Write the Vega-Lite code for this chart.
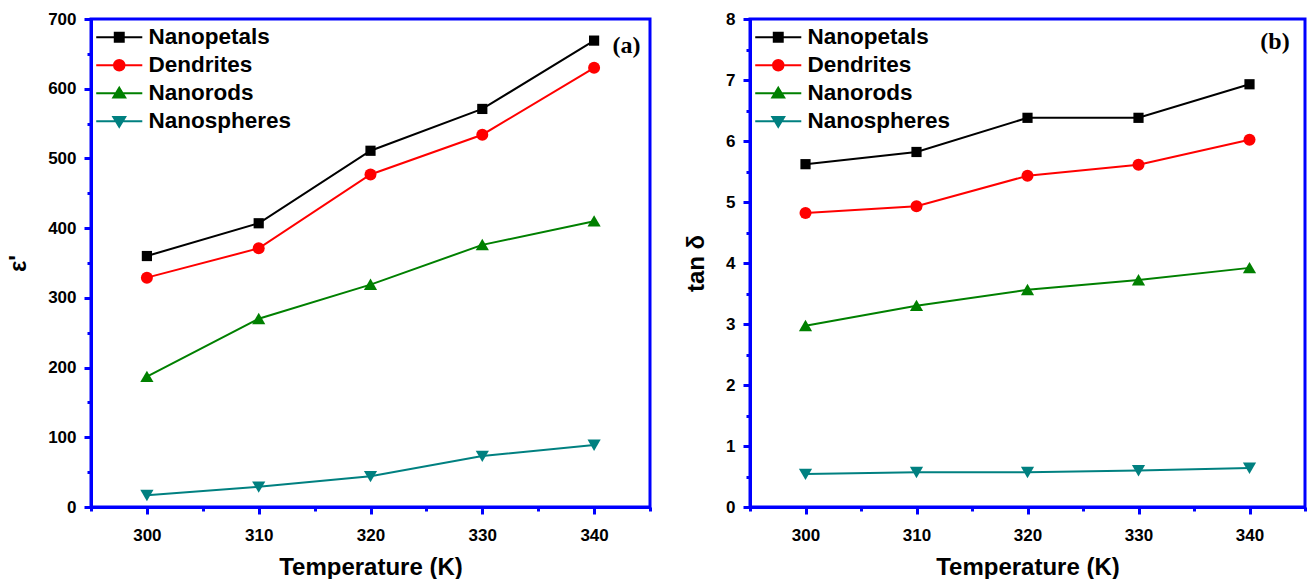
{
  "$schema": "https://vega.github.io/schema/vega-lite/v6.json",
  "padding": {"left": 5, "right": 0, "top": 8, "bottom": 0},
  "background": "white",
  "datasets": {
    "d": [
      {"T": 300, "series": "Nanopetals", "eps": 360, "tan": 5.62},
      {"T": 310, "series": "Nanopetals", "eps": 407, "tan": 5.82},
      {"T": 320, "series": "Nanopetals", "eps": 511, "tan": 6.38},
      {"T": 330, "series": "Nanopetals", "eps": 571, "tan": 6.38},
      {"T": 340, "series": "Nanopetals", "eps": 669, "tan": 6.93},
      {"T": 300, "series": "Dendrites", "eps": 329, "tan": 4.82},
      {"T": 310, "series": "Dendrites", "eps": 371, "tan": 4.93},
      {"T": 320, "series": "Dendrites", "eps": 477, "tan": 5.43},
      {"T": 330, "series": "Dendrites", "eps": 534, "tan": 5.61},
      {"T": 340, "series": "Dendrites", "eps": 630, "tan": 6.02},
      {"T": 300, "series": "Nanorods", "eps": 187, "tan": 2.97},
      {"T": 310, "series": "Nanorods", "eps": 270, "tan": 3.30},
      {"T": 320, "series": "Nanorods", "eps": 319, "tan": 3.56},
      {"T": 330, "series": "Nanorods", "eps": 376, "tan": 3.72},
      {"T": 340, "series": "Nanorods", "eps": 410, "tan": 3.92},
      {"T": 300, "series": "Nanospheres", "eps": 17, "tan": 0.54},
      {"T": 310, "series": "Nanospheres", "eps": 29, "tan": 0.57},
      {"T": 320, "series": "Nanospheres", "eps": 44, "tan": 0.57},
      {"T": 330, "series": "Nanospheres", "eps": 73, "tan": 0.60},
      {"T": 340, "series": "Nanospheres", "eps": 89, "tan": 0.64}
    ]
  },
  "config": {
    "view": {"stroke": "#0000FF", "strokeWidth": 3},
    "axis": {
      "grid": false,
      "domainColor": "#0000FF", "domainWidth": 3,
      "tickColor": "#0000FF", "tickWidth": 3, "tickSize": 7,
      "labelFont": "Liberation Sans", "labelFontWeight": "bold", "labelFontSize": 17, "labelColor": "#000000",
      "titleFont": "Liberation Sans", "titleFontWeight": "bold", "titleFontSize": 24, "titleColor": "#000000"
    },
    "legend": {
      "title": null, "orient": "top-left", "offset": 7, "padding": 0,
      "symbolSize": 196, "symbolStrokeWidth": 2, "symbolOpacity": 1, "labelOffset": 28, "rowPadding": 5,
      "labelFont": "Liberation Sans", "labelFontWeight": "bold", "labelFontSize": 22.5, "labelColor": "#000000"
    }
  },
  "resolve": {"scale": {"color": "independent", "shape": "independent", "stroke": "independent"}, "legend": {"color": "independent", "shape": "independent", "stroke": "independent"}},
  "spacing": 30,
  "hconcat": [
    {
      "width": 559, "height": 488,
      "data": {"name": "d"},
      "resolve": {"axis": {"x": "independent", "y": "independent"}},
      "layer": [
        {
          "mark": {"type": "point", "filled": true, "opacity": 0},
          "encoding": {
            "x": {"field": "T", "type": "quantitative", "axis": null},
            "y": {"field": "eps", "type": "quantitative", "axis": null},
            "color": {"field": "series", "type": "nominal",
                      "scale": {"domain": ["Nanopetals", "Dendrites", "Nanorods", "Nanospheres"], "range": ["#000000", "#FF0000", "#008000", "#008080"]}},
            "stroke": {"field": "series", "type": "nominal",
                      "scale": {"domain": ["Nanopetals", "Dendrites", "Nanorods", "Nanospheres"], "range": ["#000000", "#FF0000", "#008000", "#008080"]}},
            "shape": {"field": "series", "type": "nominal",
                      "scale": {"domain": ["Nanopetals", "Dendrites", "Nanorods", "Nanospheres"],
                                "range": ["M-1.86,0H0.79M2.07,0H4.72M0.79,-0.64H2.07V0.64H0.79Z", "M-1.86,0H0.68M2.18,0H4.72M2.18,0A0.75,0.75,0,1,1,0.68,0A0.75,0.75,0,1,1,2.18,0Z", "M-1.86,0H0.93M1.93,0H4.72M1.43,-0.8L2.28,0.62L0.58,0.62Z", "M-1.86,0H0.93M1.93,0H4.72M1.43,0.8L2.28,-0.62L0.58,-0.62Z"]}}
          }
        },
        {
          "mark": {"type": "line", "strokeWidth": 2},
          "encoding": {
            "x": {"field": "T", "type": "quantitative", "scale": {"domain": [295, 345], "nice": false, "zero": false},
                  "axis": {"orient": "bottom", "values": [300, 310, 320, 330, 340], "title": "Temperature (K)", "labelPadding": 13, "titlePadding": 12}},
            "y": {"field": "eps", "type": "quantitative", "scale": {"domain": [0, 700], "nice": false},
                  "axis": {"orient": "left", "values": [0, 100, 200, 300, 400, 500, 600, 700], "title": "ε'", "labelPadding": 8, "titlePadding": 17}},
            "color": {"field": "series", "type": "nominal"}
          }
        },
        {
          "transform": [{"filter": "datum.series === 'Nanopetals'"}],
          "mark": {"type": "point", "filled": true, "opacity": 1, "size": 144, "color": "#000000", "shape": "M-0.85,-0.85H0.85V0.85H-0.85Z"},
          "encoding": {
            "x": {"field": "T", "type": "quantitative",
                  "axis": {"orient": "bottom", "values": [295, 305, 315, 325, 335, 345], "labels": false, "domain": false, "title": null, "tickSize": 4}},
            "y": {"field": "eps", "type": "quantitative",
                  "axis": {"orient": "left", "values": [50, 150, 250, 350, 450, 550, 650], "labels": false, "domain": false, "title": null, "tickSize": 4}}
          }
        },
        {
          "transform": [{"filter": "datum.series === 'Dendrites'"}],
          "mark": {"type": "point", "filled": true, "opacity": 1, "size": 144, "color": "#FF0000", "shape": "circle"},
          "encoding": {
            "x": {"field": "T", "type": "quantitative", "axis": null},
            "y": {"field": "eps", "type": "quantitative", "axis": null}
          }
        },
        {
          "transform": [{"filter": "datum.series === 'Nanorods'"}],
          "mark": {"type": "point", "filled": true, "opacity": 1, "size": 144, "color": "#008000", "shape": "M0,-1L1.1,0.9L-1.1,0.9Z"},
          "encoding": {
            "x": {"field": "T", "type": "quantitative", "axis": null},
            "y": {"field": "eps", "type": "quantitative", "axis": null}
          }
        },
        {
          "transform": [{"filter": "datum.series === 'Nanospheres'"}],
          "mark": {"type": "point", "filled": true, "opacity": 1, "size": 144, "color": "#008080", "shape": "M0,1L1.1,-0.9L-1.1,-0.9Z"},
          "encoding": {
            "x": {"field": "T", "type": "quantitative", "axis": null},
            "y": {"field": "eps", "type": "quantitative", "axis": null}
          }
        },
        {
          "data": {"values": [{"label": "(a)"}]},
          "mark": {"type": "text", "font": "Liberation Serif", "fontWeight": "bold", "fontSize": 24, "color": "#000000", "align": "center", "baseline": "middle"},
          "encoding": {
            "x": {"datum": 342.9, "type": "quantitative", "axis": null},
            "y": {"datum": 661, "type": "quantitative", "axis": null},
            "text": {"field": "label"}
          }
        }
      ]
    },
    {
      "width": 555, "height": 488,
      "data": {"name": "d"},
      "resolve": {"axis": {"x": "independent", "y": "independent"}},
      "layer": [
        {
          "mark": {"type": "point", "filled": true, "opacity": 0},
          "encoding": {
            "x": {"field": "T", "type": "quantitative", "axis": null},
            "y": {"field": "tan", "type": "quantitative", "axis": null},
            "color": {"field": "series", "type": "nominal",
                      "scale": {"domain": ["Nanopetals", "Dendrites", "Nanorods", "Nanospheres"], "range": ["#000000", "#FF0000", "#008000", "#008080"]}},
            "stroke": {"field": "series", "type": "nominal",
                      "scale": {"domain": ["Nanopetals", "Dendrites", "Nanorods", "Nanospheres"], "range": ["#000000", "#FF0000", "#008000", "#008080"]}},
            "shape": {"field": "series", "type": "nominal",
                      "scale": {"domain": ["Nanopetals", "Dendrites", "Nanorods", "Nanospheres"],
                                "range": ["M-1.86,0H0.79M2.07,0H4.72M0.79,-0.64H2.07V0.64H0.79Z", "M-1.86,0H0.68M2.18,0H4.72M2.18,0A0.75,0.75,0,1,1,0.68,0A0.75,0.75,0,1,1,2.18,0Z", "M-1.86,0H0.93M1.93,0H4.72M1.43,-0.8L2.28,0.62L0.58,0.62Z", "M-1.86,0H0.93M1.93,0H4.72M1.43,0.8L2.28,-0.62L0.58,-0.62Z"]}}
          }
        },
        {
          "mark": {"type": "line", "strokeWidth": 2},
          "encoding": {
            "x": {"field": "T", "type": "quantitative", "scale": {"domain": [295, 345], "nice": false, "zero": false},
                  "axis": {"orient": "bottom", "values": [300, 310, 320, 330, 340], "title": "Temperature (K)", "labelPadding": 13, "titlePadding": 12}},
            "y": {"field": "tan", "type": "quantitative", "scale": {"domain": [0, 8], "nice": false},
                  "axis": {"orient": "left", "values": [0, 1, 2, 3, 4, 5, 6, 7, 8], "title": "tan δ", "labelPadding": 8, "titlePadding": 17}},
            "color": {"field": "series", "type": "nominal"}
          }
        },
        {
          "transform": [{"filter": "datum.series === 'Nanopetals'"}],
          "mark": {"type": "point", "filled": true, "opacity": 1, "size": 144, "color": "#000000", "shape": "M-0.85,-0.85H0.85V0.85H-0.85Z"},
          "encoding": {
            "x": {"field": "T", "type": "quantitative",
                  "axis": {"orient": "bottom", "values": [295, 305, 315, 325, 335, 345], "labels": false, "domain": false, "title": null, "tickSize": 4}},
            "y": {"field": "tan", "type": "quantitative",
                  "axis": {"orient": "left", "values": [0.5, 1.5, 2.5, 3.5, 4.5, 5.5, 6.5, 7.5], "labels": false, "domain": false, "title": null, "tickSize": 4}}
          }
        },
        {
          "transform": [{"filter": "datum.series === 'Dendrites'"}],
          "mark": {"type": "point", "filled": true, "opacity": 1, "size": 144, "color": "#FF0000", "shape": "circle"},
          "encoding": {
            "x": {"field": "T", "type": "quantitative", "axis": null},
            "y": {"field": "tan", "type": "quantitative", "axis": null}
          }
        },
        {
          "transform": [{"filter": "datum.series === 'Nanorods'"}],
          "mark": {"type": "point", "filled": true, "opacity": 1, "size": 144, "color": "#008000", "shape": "M0,-1L1.1,0.9L-1.1,0.9Z"},
          "encoding": {
            "x": {"field": "T", "type": "quantitative", "axis": null},
            "y": {"field": "tan", "type": "quantitative", "axis": null}
          }
        },
        {
          "transform": [{"filter": "datum.series === 'Nanospheres'"}],
          "mark": {"type": "point", "filled": true, "opacity": 1, "size": 144, "color": "#008080", "shape": "M0,1L1.1,-0.9L-1.1,-0.9Z"},
          "encoding": {
            "x": {"field": "T", "type": "quantitative", "axis": null},
            "y": {"field": "tan", "type": "quantitative", "axis": null}
          }
        },
        {
          "data": {"values": [{"label": "(b)"}]},
          "mark": {"type": "text", "font": "Liberation Serif", "fontWeight": "bold", "fontSize": 24, "color": "#000000", "align": "center", "baseline": "middle"},
          "encoding": {
            "x": {"datum": 342.3, "type": "quantitative", "axis": null},
            "y": {"datum": 7.62, "type": "quantitative", "axis": null},
            "text": {"field": "label"}
          }
        }
      ]
    }
  ]
}
